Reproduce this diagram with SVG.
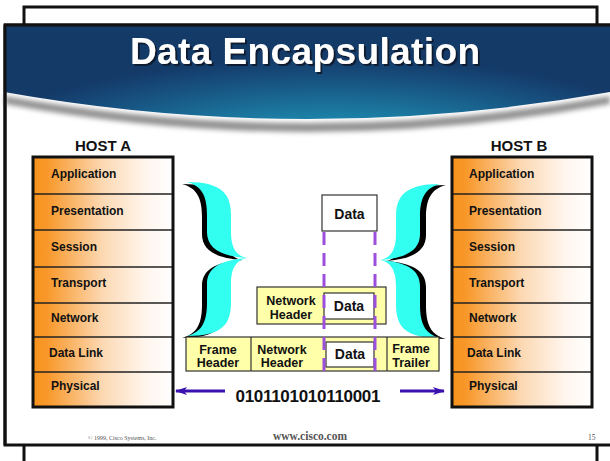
<svg xmlns="http://www.w3.org/2000/svg" width="610" height="461" viewBox="0 0 610 461">
<defs>
<linearGradient id="layerGrad" x1="0" y1="0" x2="1" y2="0">
<stop offset="0" stop-color="#f7931c"/>
<stop offset="0.1" stop-color="#f8982a"/>
<stop offset="0.5" stop-color="#fcd9b4"/>
<stop offset="0.8" stop-color="#fff5ec"/>
<stop offset="1" stop-color="#ffffff"/>
</linearGradient>
<radialGradient id="bannerGrad" cx="0.55" cy="1" r="0.75" gradientTransform="translate(0.1,0) scale(0.8,1.4)">
<stop offset="0" stop-color="#2aa6c2"/>
<stop offset="0.4" stop-color="#1c80a6"/>
<stop offset="0.8" stop-color="#17507f"/>
<stop offset="1" stop-color="#143a68"/>
</radialGradient>
<filter id="blur" x="-5%" y="-50%" width="110%" height="200%">
<feGaussianBlur stdDeviation="2.5"/>
</filter>
<filter id="tshadow" x="-5%" y="-20%" width="110%" height="150%">
<feDropShadow dx="2" dy="2" stdDeviation="0.6" flood-color="#0a1a30" flood-opacity="1"/>
</filter>
<marker id="arrow" viewBox="0 0 12 8" refX="11" refY="4" markerWidth="12" markerHeight="8" markerUnits="userSpaceOnUse" orient="auto">
<path d="M0,0 L12,4 L0,8 L3,4 Z" fill="#3a10b0"/>
</marker>
<path id="brace" d="M187,182 C223,182 231,195 231,215 L231,232 C231,249 237,256 247,258 C237,260 231,267 231,284 L231,302 C231,324 223,336 187,336 C202,332 207,322 207,302 L207,284 C207,268 220,260 247,258 C220,256 207,248 207,232 L207,215 C207,196 202,186 187,182 Z"/>
</defs>
<style>
.frame{fill:#fff;stroke:#111;stroke-width:3}
.layer{fill:url(#layerGrad)}
.stackBorder{fill:none;stroke:#111;stroke-width:3}
.div{stroke:#222;stroke-width:1.3}
.lbl{font-family:"Liberation Sans",Arial,sans-serif;font-weight:bold;font-size:12px;fill:#111}
.host{font-family:"Liberation Sans",Arial,sans-serif;font-weight:bold;font-size:15px;fill:#111;text-anchor:middle}
.box{font-family:"Liberation Sans",Arial,sans-serif;font-weight:bold;font-size:12.5px;fill:#111;text-anchor:middle}
.data{font-family:"Liberation Sans",Arial,sans-serif;font-weight:bold;font-size:14px;fill:#111;text-anchor:middle}
.yel{fill:#ffffaa;stroke:#333;stroke-width:1.2}
.wbox{fill:#fff;stroke:#333;stroke-width:1.2}
.dash{stroke:#9b4fdc;stroke-width:3;stroke-dasharray:13 8;fill:none}
.arr{stroke:#3a10b0;stroke-width:3;fill:none}
.foot{font-family:"Liberation Serif","Times New Roman",serif;fill:#555}
</style>

<!-- slide frames -->
<rect class="frame" x="24" y="7" width="573" height="480"/>
<rect class="frame" x="5" y="25" width="612" height="420"/>

<!-- banner -->
<g id="banner">
<path d="M5,96 Q307,150 610,96 L610,104 Q307,160 5,104 Z" fill="#777" filter="url(#blur)" opacity="0.8"/>
<path d="M4,25 L610,25 L610,92 Q307,146 4,92 Z" fill="url(#bannerGrad)"/>
<line x1="4" y1="25" x2="610" y2="25" stroke="#111" stroke-width="3"/>
<line x1="5" y1="25" x2="5" y2="445" stroke="#111" stroke-width="3"/>
<text x="305" y="64" text-anchor="middle" font-family="Liberation Sans,Arial,sans-serif" font-weight="bold" font-size="37" fill="#ffffff" textLength="350" filter="url(#tshadow)">Data Encapsulation</text>
</g>

<!-- Host A -->
<g id="hostA">
<text class="host" x="103" y="151">HOST A</text>
<rect class="layer" x="33" y="157" width="140" height="250"/>
<line class="div" x1="33" y1="194" x2="173" y2="194"/>
<line class="div" x1="33" y1="230" x2="173" y2="230"/>
<line class="div" x1="33" y1="267" x2="173" y2="267"/>
<line class="div" x1="33" y1="303" x2="173" y2="303"/>
<line class="div" x1="33" y1="337" x2="173" y2="337"/>
<line class="div" x1="33" y1="372" x2="173" y2="372"/>
<rect class="stackBorder" x="33" y="157" width="140" height="250"/>
<text class="lbl" x="51" y="178">Application</text>
<text class="lbl" x="51" y="215">Presentation</text>
<text class="lbl" x="51" y="251">Session</text>
<text class="lbl" x="51" y="287">Transport</text>
<text class="lbl" x="51" y="322">Network</text>
<text class="lbl" x="49" y="357">Data Link</text>
<text class="lbl" x="51" y="390">Physical</text>
</g>

<!-- Host B -->
<g id="hostB">
<text class="host" x="519" y="151">HOST B</text>
<rect class="layer" x="452" y="157" width="140" height="250"/>
<line class="div" x1="452" y1="194" x2="592" y2="194"/>
<line class="div" x1="452" y1="230" x2="592" y2="230"/>
<line class="div" x1="452" y1="267" x2="592" y2="267"/>
<line class="div" x1="452" y1="303" x2="592" y2="303"/>
<line class="div" x1="452" y1="337" x2="592" y2="337"/>
<line class="div" x1="452" y1="372" x2="592" y2="372"/>
<rect class="stackBorder" x="452" y="157" width="140" height="250"/>
<text class="lbl" x="469" y="178">Application</text>
<text class="lbl" x="469" y="215">Presentation</text>
<text class="lbl" x="469" y="251">Session</text>
<text class="lbl" x="469" y="287">Transport</text>
<text class="lbl" x="469" y="322">Network</text>
<text class="lbl" x="467" y="357">Data Link</text>
<text class="lbl" x="469" y="390">Physical</text>
</g>

<!-- braces -->
<g id="braceLeft">
<use href="#brace" fill="#000" transform="translate(-5,2)"/>
<use href="#brace" fill="#33fff0"/>
</g>
<g id="braceRight" transform="translate(627,2) scale(-1,1)">
<use href="#brace" fill="#000" transform="translate(-6,1)"/>
<use href="#brace" fill="#33fff0"/>
</g>

<!-- data unit -->
<g id="dataTop">
<rect class="wbox" x="322" y="195" width="55" height="36"/>
<text class="data" x="349.5" y="219">Data</text>
</g>

<!-- packet -->
<g id="packet">
<rect class="yel" x="257" y="287" width="129" height="37"/>
<text class="box" x="291" y="305">Network</text>
<text class="box" x="291" y="319">Header</text>
<rect class="wbox" x="324" y="293" width="50" height="26"/>
<text class="data" x="349" y="311">Data</text>
</g>

<!-- frame -->
<g id="frame">
<rect class="yel" x="186" y="337" width="253" height="34"/>
<line x1="251" y1="337" x2="251" y2="371" stroke="#333" stroke-width="1.2"/>
<line x1="387" y1="337" x2="387" y2="371" stroke="#333" stroke-width="1.2"/>
<text class="box" x="218" y="354">Frame</text>
<text class="box" x="218" y="367">Header</text>
<text class="box" x="282" y="354">Network</text>
<text class="box" x="282" y="367">Header</text>
<rect class="wbox" x="326" y="342" width="48" height="25"/>
<text class="data" x="350" y="359">Data</text>
<text class="box" x="411" y="353">Frame</text>
<text class="box" x="411" y="367">Trailer</text>
</g>

<!-- connectors -->
<g id="connectors">
<line class="dash" x1="324" y1="232" x2="324" y2="371"/>
<line class="dash" x1="375" y1="232" x2="375" y2="371"/>
<line class="arr" x1="225" y1="391" x2="176" y2="391" marker-end="url(#arrow)"/>
<line class="arr" x1="400" y1="391" x2="444" y2="391" marker-end="url(#arrow)"/>
</g>
<text x="308" y="402" text-anchor="middle" font-family="Liberation Sans,Arial,sans-serif" font-weight="bold" font-size="17" fill="#111" textLength="145">0101101010110001</text>

<!-- footer -->
<text class="foot" x="88" y="440" font-size="6">© 1999, Cisco Systems, Inc.</text>
<text class="foot" x="310" y="440" font-size="11.5" font-weight="bold" text-anchor="middle">www.cisco.com</text>
<text class="foot" x="588" y="440" font-size="7.5">15</text>
</svg>
